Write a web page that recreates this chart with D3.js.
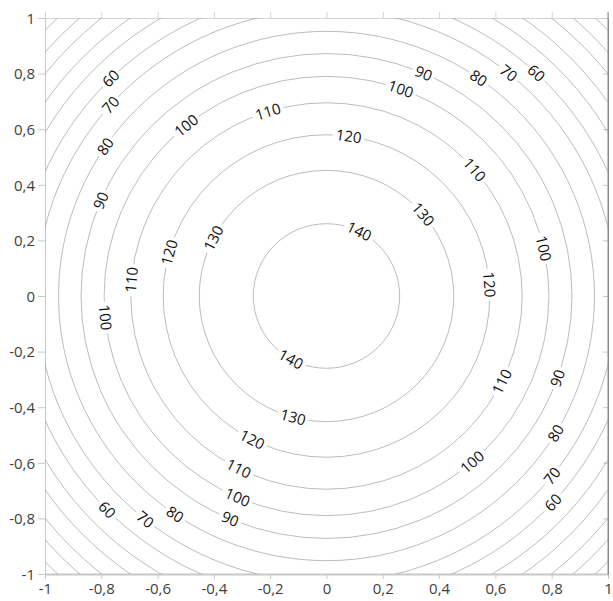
<!DOCTYPE html>
<html>
<head>
<meta charset="utf-8">
<script src="https://cdn.jsdelivr.net/npm/d3@7"></script>
<style>
  html, body { margin: 0; padding: 0; background: #fff; }
  svg { display: block; }
  .tick-label { font-family: "Open Sans", sans-serif; font-size: 15px; fill: #404040; }
  .contour-label { font-family: "Open Sans", sans-serif; font-size: 15px; fill: #111; }
</style>
</head>
<body>
<div id="chart"></div>
<script>
// Tick values for both axes
const xTicks = [-1, -0.8, -0.6, -0.4, -0.2, 0, 0.2, 0.4, 0.6, 0.8, 1];
const yTicks = [-1, -0.8, -0.6, -0.4, -0.2, 0, 0.2, 0.4, 0.6, 0.8, 1];

// Contour levels and their radius (data units)
const levels = [140, 130, 120, 110, 100, 90, 80, 70, 60, 50, 40, 30, 20, 10];
const radii = [0.26, 0.452, 0.58, 0.695, 0.79, 0.872, 0.952, 1.03, 1.095, 1.16, 1.219, 1.28, 1.33, 1.383];

// Where each contour label sits: its level and its angle (degrees) on the circle
const labelLevel = [
  140, 140,
  130, 130, 130,
  120, 120, 120, 120,
  110, 110, 110, 110, 110,
  100, 100, 100, 100, 100, 100,
  90, 90, 90, 90,
  80, 80, 80, 80,
  70, 70, 70, 70,
  60, 60, 60, 60
];
const labelAngle = [
  63.5, 240.9,
  40.6, 152.6, 254.8,
  82.2, 4.1, 164.3, 242.9,
  107.4, 40.8, 175.2, 243.3, 333.7,
  70.5, 129.1, 12.5, 185.6, 246.4, 310.9,
  66.7, 156.8, 246.9, 340.2,
  55.4, 145.6, 235.6, 328.8,
  51.1, 138.1, 231.3, 321.1,
  47.1, 134.4, 224.6, 317.3
];

const W = 613, H = 601;
const M = { left: 45, right: 5, top: 18, bottom: 27 };

const x = d3.scaleLinear().domain([-1, 1]).range([M.left, W - M.right]);
const y = d3.scaleLinear().domain([-1, 1]).range([H - M.bottom, M.top]);
const fmt = v => String(+v.toFixed(1)).replace(".", ",");

const svg = d3.select("#chart").append("svg")
  .attr("width", W).attr("height", H);

const defs = svg.append("defs");
defs.append("clipPath").attr("id", "plot-clip")
  .append("rect")
  .attr("x", x(-1)).attr("y", y(1))
  .attr("width", x(1) - x(-1)).attr("height", y(-1) - y(1));

// axes: left, bottom, top border, right border
svg.append("g")
  .attr("transform", `translate(${x(-1)},0)`)
  .call(d3.axisLeft(y).tickValues(yTicks).tickFormat(fmt).tickSize(7).tickSizeOuter(0))
  .call(g => g.select(".domain").attr("stroke", "#c8c8c8"))
  .call(g => g.selectAll(".tick line").attr("stroke", "#c8c8c8"))
  .call(g => g.selectAll(".tick text").attr("class", "tick-label").attr("x", -10).attr("dy", "0.35em"));

svg.append("g")
  .attr("transform", `translate(0,${y(-1)})`)
  .call(d3.axisBottom(x).tickValues(xTicks).tickFormat(fmt).tickSize(5).tickSizeOuter(0))
  .call(g => g.select(".domain").attr("stroke", "#c8c8c8").attr("stroke-width", 2))
  .call(g => g.selectAll(".tick line").attr("stroke", "#c8c8c8"))
  .call(g => g.selectAll(".tick text").attr("class", "tick-label").attr("y", 9).attr("dy", "0.71em"));

svg.append("g")
  .attr("transform", `translate(0,${y(1)})`)
  .call(d3.axisTop(x).tickValues(xTicks).tickFormat("").tickSize(6).tickSizeOuter(0))
  .call(g => g.select(".domain").attr("stroke", "#d4d4d4"))
  .call(g => g.selectAll(".tick line").attr("stroke", "#d4d4d4"));

svg.append("g")
  .attr("transform", `translate(${x(1)},0)`)
  .call(d3.axisRight(y).tickValues(yTicks).tickFormat("").tickSize(-5).tickSizeOuter(0))
  .call(g => g.select(".domain").attr("stroke", "#8a8a8a"))
  .call(g => g.selectAll(".tick line").attr("stroke", "#c8c8c8"));

svg.append("line")
  .attr("x1", x(1)).attr("x2", x(1))
  .attr("y1", y(1) - 6).attr("y2", y(-1))
  .attr("stroke", "#8a8a8a");

// label placement
const labels = labelLevel.map((lv, i) => {
  const r = radii[levels.indexOf(lv)];
  const a = labelAngle[i] * Math.PI / 180;
  let rot = 90 - labelAngle[i];
  while (rot > 90) rot -= 180;
  while (rot <= -90) rot += 180;
  return { lv, px: x(r * Math.cos(a)), py: y(r * Math.sin(a)), rot };
});

// mask that cuts gaps in the contour lines behind the labels
const mask = defs.append("mask").attr("id", "label-mask")
  .attr("maskUnits", "userSpaceOnUse")
  .attr("x", 0).attr("y", 0).attr("width", W).attr("height", H);
mask.append("rect").attr("width", W).attr("height", H).attr("fill", "#fff");
mask.selectAll("rect.gap").data(labels).enter().append("rect")
  .attr("class", "gap")
  .attr("x", d => -(String(d.lv).length * 8.6 + 6) / 2)
  .attr("y", -6)
  .attr("width", d => String(d.lv).length * 8.6 + 6)
  .attr("height", 12)
  .attr("fill", "#000")
  .attr("transform", d => `translate(${d.px},${d.py}) rotate(${d.rot})`);

const cx = x(0), cy = y(0);
svg.append("g")
  .attr("clip-path", "url(#plot-clip)")
  .append("g")
  .attr("mask", "url(#label-mask)")
  .selectAll("ellipse").data(radii).enter().append("ellipse")
  .attr("cx", cx).attr("cy", cy)
  .attr("rx", r => x(r) - cx)
  .attr("ry", r => cy - y(r))
  .attr("fill", "none")
  .attr("stroke", "#a6a6a6")
  .attr("stroke-width", 0.75);

svg.append("g").selectAll("text").data(labels).enter().append("text")
  .attr("class", "contour-label")
  .attr("text-anchor", "middle")
  .attr("dy", "0.36em")
  .attr("transform", d => `translate(${d.px},${d.py}) rotate(${d.rot})`)
  .text(d => d.lv);
</script>
</body>
</html>
